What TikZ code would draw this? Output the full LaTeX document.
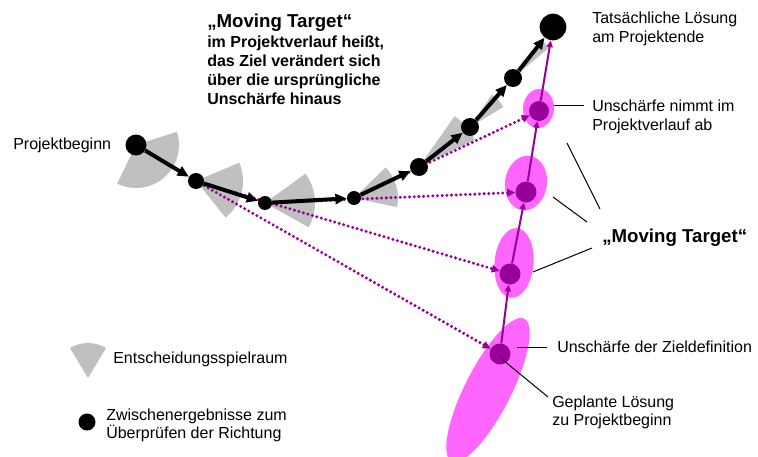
\documentclass[tikz,border=0pt]{standalone}
\usepackage{fontspec}
\setmainfont{Liberation Sans}
\usetikzlibrary{arrows.meta,calc}
\pgfdeclarelayer{bg}
\pgfdeclarelayer{mid}
\pgfsetlayers{bg,mid,main}
\definecolor{pinkfill}{HTML}{FF66FF}
\definecolor{purp}{HTML}{990099}
\definecolor{sectgray}{HTML}{C0C0C0}
\tikzset{
  blk/.style={circle,fill=black,inner sep=0pt,minimum size=#1},
  pdot/.style={circle,fill=purp,inner sep=0pt,minimum size=#1},
  lbl/.style={anchor=base west,inner sep=0pt,align=left,font=\fontsize{12}{14.25}\selectfont},
  blkarrow/.style={line width=3pt,-{Triangle[length=8.5pt,width=7.5pt]}},
  parrow/.style={purp,line width=1.5pt,-{Triangle[length=5pt,width=4.5pt]}},
  dotarrow/.style={purp,line width=2.5pt,line cap=round,dash pattern=on 0pt off 3.5pt,-{Triangle[length=6pt,width=5.5pt]}},
  thin/.style={line width=0.75pt},
  sector/.style={fill=sectgray}
}
\begin{document}
\begin{tikzpicture}[x=0.75pt,y=-0.75pt]
\useasboundingbox (0,0) rectangle (758,457);
% path nodes
\node[blk=15.75pt] (p0) at (136,145) {};
\node[blk=12pt] (p1) at (196,181) {};
\node[blk=10.5pt] (p2) at (265,203) {};
\node[blk=10.5pt] (p3) at (354,198) {};
\node[blk=13.5pt] (p4) at (419,167) {};
\node[blk=13.5pt] (p5) at (470,127) {};
\node[blk=13.5pt] (p6) at (513,78) {};
\node[blk=20pt] (p7) at (553,27) {};
% target dots
\node[pdot=15.75pt] (d1) at (500,354) {};
\node[pdot=15.75pt] (d2) at (510,274) {};
\node[pdot=15.75pt] (d3) at (526,192) {};
\node[pdot=15pt] (d4) at (539,111) {};
% legend
\node[blk=12.75pt] (ldot) at (87,422) {};
\coordinate (lsect) at (88,378);
% connector end coordinates
\coordinate (c1a) at (554,105); \coordinate (c1b) at (584,105);
\coordinate (c2a) at (567,143); \coordinate (c2b) at (600,209);
\coordinate (c3a) at (553,197); \coordinate (c3b) at (587,222);
\coordinate (c4a) at (533,272); \coordinate (c4b) at (592,248);
\coordinate (c5a) at (517,347); \coordinate (c5b) at (547,347);
\coordinate (c6a) at (503,360); \coordinate (c6b) at (548,397);

\begin{pgfonlayer}{bg}
\fill[white] (0,0) rectangle (758,457);
\fill[sector] (p0.center) -- ++(-18:43) arc[start angle=-18,end angle=116,radius=43] -- cycle;
\fill[sector] (p1.center) -- ++(-23:47) arc[start angle=-23,end angle=51,radius=47] -- cycle;
\fill[sector] (p2.center) -- ++(-36:50) arc[start angle=-36,end angle=29,radius=50] -- cycle;
\fill[sector] (p3.center) -- ++(-44:44) arc[start angle=-44,end angle=12,radius=44] -- cycle;
\fill[sector] (p4.center) -- ++(-55:62) arc[start angle=-55,end angle=-26,radius=62] -- cycle;
\fill[sector] (p5.center) -- ++(-56:39) arc[start angle=-56,end angle=-31,radius=39] -- cycle;
\fill[sector] (p6.center) -- ++(-54:47) arc[start angle=-54,end angle=-40,radius=47] -- cycle;
\fill[sector] (lsect) -- ++(-121:35) arc[start angle=-121,end angle=-59,radius=35] -- cycle;
\fill[pinkfill,shift={(488,390)},rotate=63] (0,0) ellipse[x radius=80,y radius=23];
\fill[pinkfill,shift={(514,263)},rotate=-5] (0,0) ellipse[x radius=19.5,y radius=35];
\fill[pinkfill,shift={(526,183)},rotate=-8] (0,0) ellipse[x radius=21,y radius=27.5];
\fill[pinkfill,shift={(538.5,108.5)},rotate=-5] (0,0) ellipse[x radius=15.5,y radius=19.5];
\end{pgfonlayer}

\begin{pgfonlayer}{mid}
\draw[dotarrow] (p1.center) -- (d1);
\draw[dotarrow] (p1.center) -- (d2);
\draw[dotarrow] (p2.center) -- (d3);
\draw[dotarrow] (p3.center) -- (d4);
\draw[parrow] (d1) -- (d2);
\draw[parrow] (d2) -- (d3);
\draw[parrow] (d3) -- (d4);
\draw[parrow] (d4) -- (p7);
\draw[blkarrow] (p0) -- (p1);
\draw[blkarrow] (p1) -- (p2);
\draw[blkarrow] (p2) -- (p3);
\draw[blkarrow] (p3) -- (p4);
\draw[blkarrow] (p4) -- (p5);
\draw[blkarrow] (p5) -- (p6);
\draw[blkarrow] (p6) -- (p7);
\draw[thin] (c1a) -- (c1b);
\draw[thin] (c2a) -- (c2b);
\draw[thin] (c3a) -- (c3b);
\draw[thin] (c4a) -- (c4b);
\draw[thin] (c5a) -- (c5b);
\end{pgfonlayer}
\draw[thin] (c6a) -- (c6b);

% texts (base anchor of a multi-line node = baseline of its last line)
\node[lbl] (tproj) at (13,149) {Projektbeginn};
\node[lbl,font=\fontsize{14}{17}\bfseries] (ttitle) at (207,27) {„Moving Target“};
\node[lbl,font=\fontsize{12}{14.25}\bfseries] (tbody) at (207,104) {im Projektverlauf heißt,\\das Ziel verändert sich\\über die urspr\"ungliche\\Unschärfe hinaus};
\node[lbl] (tend) at (592,42) {Tatsächliche Lösung\\am Projektende};
\node[lbl] (tunsch) at (592,130) {Unschärfe nimmt im\\Projektverlauf ab};
\node[lbl,font=\fontsize{14}{17}\bfseries] (tmov) at (602,242) {„Moving Target“};
\node[lbl] (tziel) at (557,352) {Unschärfe der Zieldefinition};
\node[lbl,font=\fontsize{12}{13.5}\selectfont] (tgepl) at (552,425) {Geplante Lösung\\zu Projektbeginn};
\node[lbl] (tents) at (113,363) {Entscheidungsspielraum};
\node[lbl,font=\fontsize{12}{13.5}\selectfont] (tzw) at (106,438) {Zwischenergebnisse zum\\Überprüfen der Richtung};
\end{tikzpicture}
\end{document}
